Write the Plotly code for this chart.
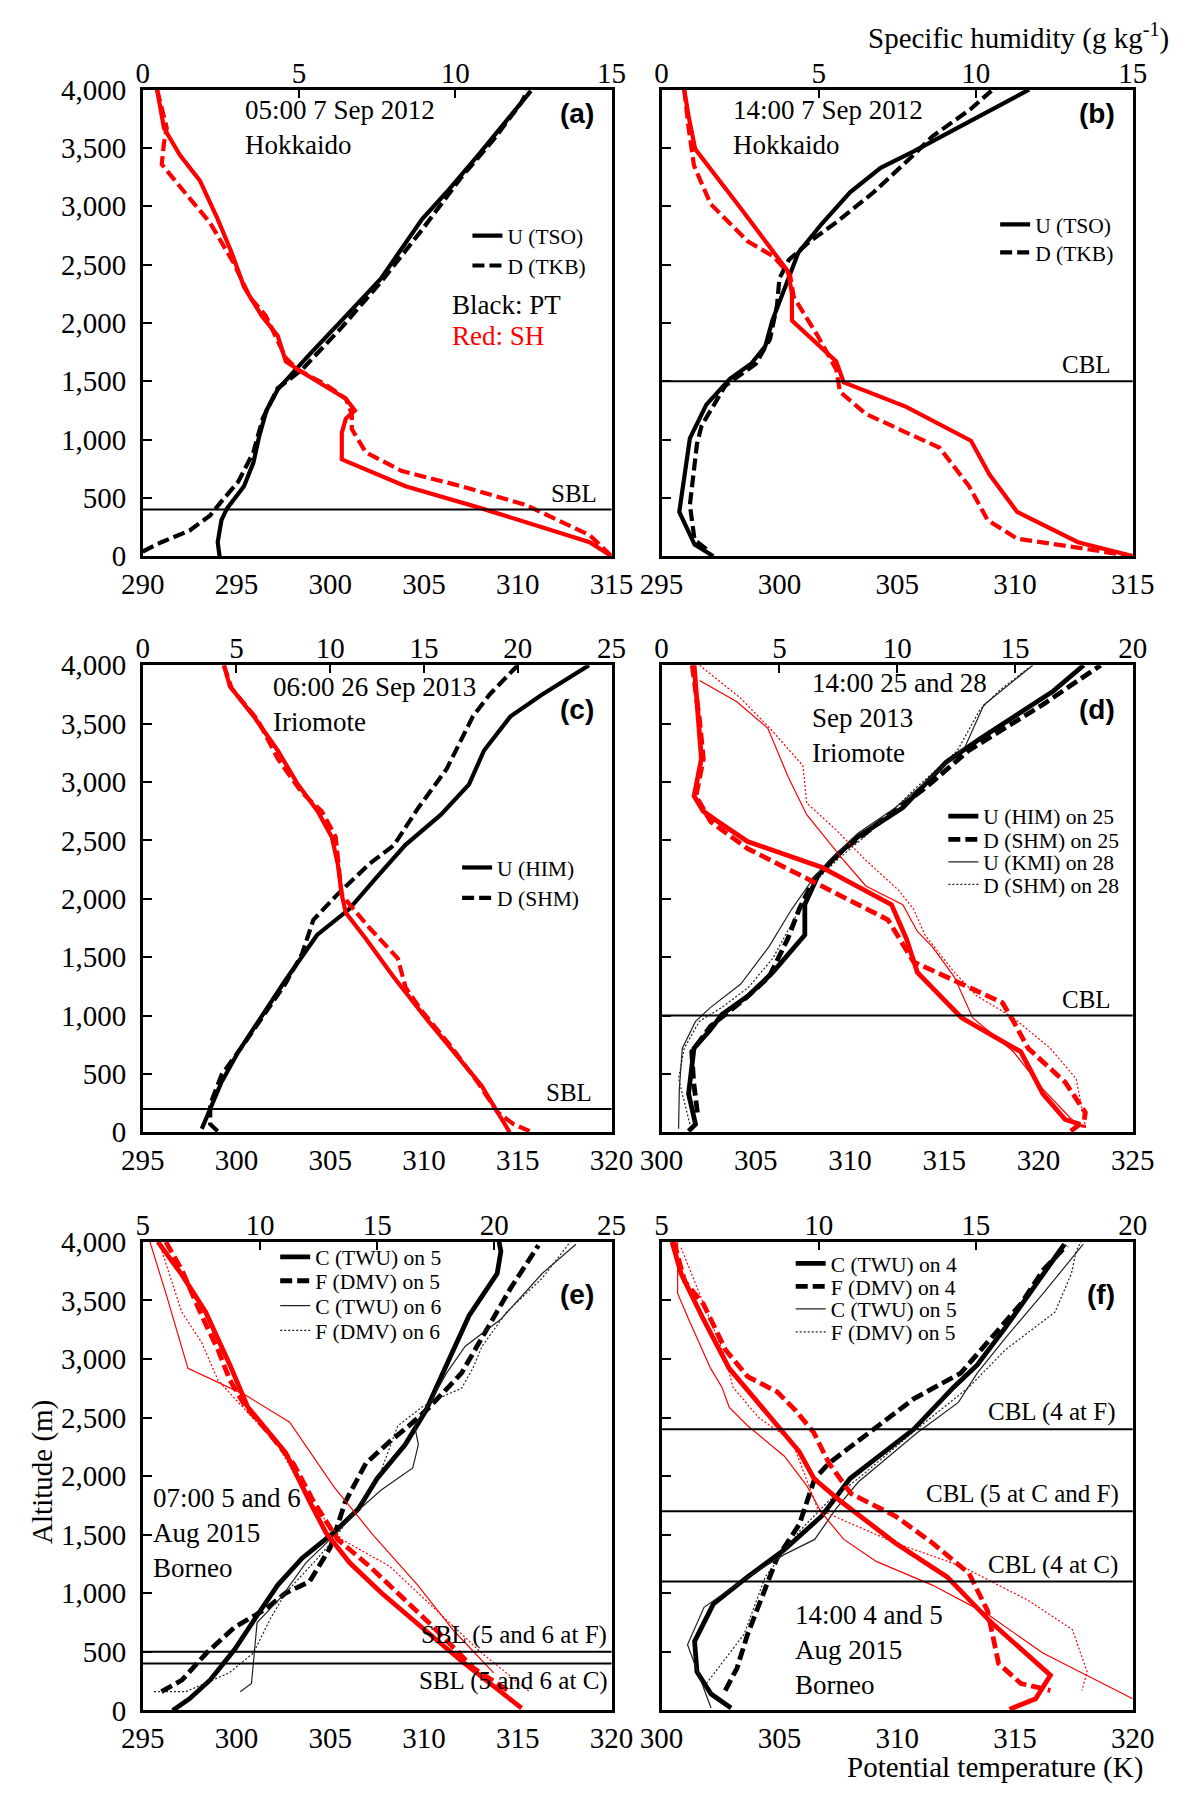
import plotly.graph_objects as go

# ---- (a) 05:00 7 Sep 2012, Hokkaido ----
a_u_pt_z = [0, 120, 310, 410, 600, 800, 1020, 1250, 1430, 1540, 1730, 2020, 2380, 2890, 3120, 3440, 3670, 3990]
a_u_pt = [294.1, 294.0, 294.2, 294.5, 295.4, 295.9, 296.2, 296.6, 297.2, 297.8, 298.9, 300.6, 302.7, 304.9, 306.2, 307.9, 309.1, 310.7]
a_d_pt_z = [40, 120, 220, 350, 470, 640, 890, 1180, 1440, 1600, 1960, 2350, 2800, 3250, 3570, 3890, 3990]
a_d_pt = [290.0, 291.0, 292.5, 293.6, 294.2, 295.1, 295.9, 296.4, 297.2, 298.5, 300.6, 302.7, 304.9, 307.0, 308.7, 310.2, 310.5]
a_u_sh_z = [4000, 3670, 3440, 3220, 2890, 2600, 2310, 2060, 1890, 1670, 1600, 1440, 1350, 1250, 1180, 1060, 830, 600, 410, 120, 0]
a_u_sh = [0.46, 0.68, 1.19, 1.83, 2.40, 2.85, 3.24, 3.81, 4.32, 4.58, 4.96, 5.98, 6.50, 6.79, 6.50, 6.37, 6.37, 8.41, 10.84, 14.30, 15.0]
a_d_sh_z = [4000, 3670, 3540, 3360, 3150, 2860, 2510, 2220, 2060, 1700, 1600, 1470, 1350, 1220, 1090, 890, 730, 600, 440, 180, 0]
a_d_sh = [0.46, 0.77, 0.68, 0.61, 1.25, 2.15, 2.92, 3.43, 3.94, 4.58, 4.96, 5.86, 6.50, 6.69, 6.69, 7.14, 8.29, 10.2, 12.25, 14.3, 15.0]
a_bl = [400]
a_bl_text = ["SBL"]

# ---- (b) 14:00 7 Sep 2012, Hokkaido ----
b_u_pt_z = [0, 100, 380, 1010, 1300, 1520, 1650, 1800, 2020, 2280, 2600, 2850, 3120, 3330, 3470, 3730, 4000]
b_u_pt = [297.2, 296.4, 295.75, 296.2, 296.9, 297.9, 298.8, 299.4, 299.7, 300.2, 300.8, 301.8, 303.0, 304.3, 305.7, 308.1, 310.6]
b_d_pt_z = [60, 140, 440, 960, 1120, 1460, 1650, 1860, 2150, 2380, 2540, 2700, 2860, 3120, 3440, 3600, 3830, 3990]
b_d_pt = [296.9, 296.4, 296.2, 296.5, 296.7, 297.7, 299.0, 299.6, 299.9, 300.0, 300.4, 301.3, 302.4, 304.0, 305.7, 306.5, 308.1, 309.0]
b_u_sh_z = [4000, 3770, 3490, 2990, 2440, 2250, 2020, 1670, 1490, 1280, 990, 700, 380, 120, 0]
b_u_sh = [0.72, 0.86, 1.07, 2.50, 4.03, 4.15, 4.15, 5.56, 5.80, 7.79, 9.85, 10.44, 11.32, 13.26, 15.0]
b_d_sh_z = [4000, 3670, 3350, 3020, 2700, 2570, 2410, 2220, 1890, 1600, 1410, 1220, 930, 600, 310, 150, 70, 0]
b_d_sh = [0.72, 0.86, 1.03, 1.56, 2.74, 3.56, 4.09, 4.21, 4.97, 5.56, 5.68, 6.50, 8.85, 9.79, 10.38, 11.32, 13.32, 15.0]
b_bl = [1500]
b_bl_text = ["CBL"]

# ---- (c) 06:00 26 Sep 2013, Iriomote ----
c_u_pt_z = [30, 170, 430, 690, 1010, 1300, 1690, 1910, 2170, 2460, 2720, 2980, 3270, 3560, 3750, 4000]
c_u_pt = [298.15, 298.5, 299.2, 300.1, 301.4, 302.6, 304.3, 306.0, 307.4, 309.0, 310.9, 312.4, 313.2, 314.6, 316.3, 318.8]
c_d_pt_z = [10, 70, 240, 490, 780, 1040, 1270, 1530, 1820, 2040, 2300, 2460, 2780, 3110, 3560, 3750, 4000]
c_d_pt = [299.0, 298.6, 298.6, 299.2, 300.5, 301.6, 302.6, 303.5, 304.1, 305.4, 307.1, 308.4, 309.7, 311.2, 312.6, 313.5, 315.0]
c_u_sh_z = [4000, 3820, 3560, 3270, 2980, 2750, 2530, 2300, 2040, 1880, 1660, 1330, 980, 690, 400, 170, 0]
c_u_sh = [4.33, 4.65, 5.93, 7.2, 8.27, 9.33, 10.08, 10.4, 10.61, 10.83, 11.89, 13.38, 15.09, 16.58, 18.07, 18.93, 19.57]
c_d_sh_z = [4000, 3800, 3530, 3200, 2910, 2750, 2530, 2240, 2040, 1950, 1750, 1490, 1240, 1040, 750, 430, 170, 70, 10]
c_d_sh = [4.33, 4.75, 6.14, 7.2, 8.48, 9.55, 10.29, 10.51, 10.61, 11.04, 12.1, 13.6, 14.02, 14.88, 16.37, 17.86, 18.93, 19.78, 20.63]
c_bl = [200]
c_bl_text = ["SBL"]

# ---- (d) 14:00 25 and 28 Sep 2013, Iriomote ----
d_u25_pt_z = [10, 70, 330, 720, 880, 1010, 1170, 1370, 1690, 1950, 2200, 2370, 2530, 2780, 3170, 3370, 3780, 4000]
d_u25_pt = [301.43, 301.8, 301.43, 301.72, 302.6, 303.2, 304.6, 305.9, 307.6, 307.6, 308.3, 309.3, 310.4, 312.8, 315.1, 316.9, 320.8, 322.4]
d_d25_pt_z = [170, 430, 690, 910, 1140, 1330, 1660, 1910, 2170, 2400, 2660, 2950, 3270, 3660, 4000]
d_d25_pt = [301.9, 301.7, 301.6, 302.6, 304.4, 305.7, 306.7, 307.3, 308.1, 309.5, 311.6, 314.0, 316.3, 320.2, 323.3]
d_u28_pt_z = [30, 370, 720, 950, 1070, 1270, 1590, 1910, 2140, 2330, 2560, 2780, 3040, 3300, 3660, 3820, 4000]
d_u28_pt = [300.9, 300.94, 301.1, 301.8, 302.6, 304.2, 305.7, 306.9, 307.9, 308.9, 310.4, 312.4, 314.3, 316.1, 317.1, 318.3, 319.7]
d_d28_pt_z = [70, 460, 720, 950, 1070, 1240, 1490, 1850, 2140, 2330, 2590, 2950, 3270, 3620, 3780, 3980]
d_d28_pt = [301.5, 300.9, 301.2, 302.0, 303.2, 304.6, 305.9, 307.1, 308.1, 309.3, 311.2, 313.5, 315.7, 316.9, 317.9, 319.5]
d_u25_sh_z = [4000, 3530, 3200, 2880, 2750, 2660, 2490, 2270, 1950, 1660, 1370, 980, 690, 330, 110, 70, 10]
d_u25_sh = [1.38, 1.54, 1.69, 1.38, 1.77, 2.40, 3.65, 6.79, 9.76, 10.39, 10.86, 12.74, 15.25, 16.19, 17.13, 17.76, 17.37]
d_d25_sh_z = [4000, 3530, 3200, 2880, 2660, 2430, 2110, 1820, 1460, 1300, 1110, 950, 720, 430, 170, 40]
d_d25_sh = [1.3, 1.61, 1.77, 1.46, 2.08, 3.65, 6.79, 9.61, 10.7, 12.43, 14.47, 14.94, 15.56, 17.13, 17.99, 17.9]
d_u28_sh_z = [3870, 3690, 3460, 3040, 2720, 2330, 2110, 1950, 1720, 1590, 1330, 980, 690, 370, 170, 70]
d_u28_sh = [1.61, 3.18, 4.51, 5.38, 6.16, 7.73, 8.67, 10.24, 10.86, 11.49, 12.43, 13.21, 14.94, 16.19, 17.13, 17.6]
d_d28_sh_z = [4000, 3720, 3460, 3140, 2820, 2590, 2330, 2070, 1910, 1690, 1370, 1170, 980, 720, 460, 40]
d_d28_sh = [1.61, 3.34, 4.6, 6.0, 6.16, 7.41, 8.67, 10.08, 10.7, 11.18, 12.43, 13.37, 14.94, 16.5, 17.6, 18.0]
d_bl = [1000]
d_bl_text = ["CBL"]

# ---- (e) 07:00 5 and 6 Aug 2015, Borneo ----
e_c5_pt_z = [0, 100, 260, 520, 810, 1070, 1300, 1520, 1720, 1980, 2270, 2560, 2950, 3370, 3730, 3920, 4000]
e_c5_pt = [296.6, 297.5, 298.6, 299.9, 301.1, 302.2, 303.5, 305.2, 306.5, 307.5, 309.0, 310.1, 311.2, 312.4, 313.9, 314.1, 314.0]
e_f5_pt_z = [160, 260, 490, 710, 870, 1000, 1100, 1390, 1780, 2110, 2300, 2430, 2590, 2880, 3240, 3600, 3970]
e_f5_pt = [296.0, 297.1, 298.4, 299.9, 301.6, 302.6, 303.9, 305.0, 305.8, 306.9, 308.2, 309.2, 310.3, 312.0, 313.3, 314.6, 316.1]
e_c6_pt_z = [160, 230, 750, 970, 1260, 1460, 1680, 1880, 2070, 2270, 2430, 2620, 2880, 3110, 3340, 3730, 3980]
e_c6_pt = [300.2, 300.8, 301.1, 302.4, 303.7, 305.0, 306.3, 307.7, 309.4, 309.7, 309.5, 310.3, 311.2, 312.2, 314.1, 316.3, 318.1]
e_f6_pt_z = [160, 160, 320, 490, 780, 1000, 1260, 1460, 1750, 2040, 2430, 2590, 2660, 2750, 2920, 3110, 3400, 3690, 4000]
e_f6_pt = [295.6, 297.3, 299.6, 300.9, 301.8, 302.6, 304.1, 305.2, 306.5, 307.7, 308.6, 309.9, 310.7, 312.0, 312.6, 313.1, 314.4, 316.3, 317.8]
e_c5_sh_z = [4000, 3720, 3400, 2950, 2590, 2360, 2200, 1780, 1520, 1260, 1000, 710, 420, 20]
e_c5_sh = [5.65, 6.67, 7.69, 8.72, 9.48, 10.42, 11.1, 12.13, 12.81, 13.83, 15.2, 16.9, 18.61, 21.16]
e_f5_sh_z = [4000, 3760, 3370, 3080, 2820, 2590, 2360, 2100, 1780, 1460, 1230, 970, 710, 360, 150]
e_f5_sh = [5.99, 6.67, 7.52, 8.21, 8.72, 9.4, 10.42, 11.45, 12.3, 13.32, 14.68, 16.05, 17.41, 19.12, 20.74]
e_c6_sh_z = [4000, 3560, 2920, 2690, 2460, 1910, 1490, 1070, 680, 320]
e_c6_sh = [5.31, 5.99, 6.93, 9.4, 11.27, 13.15, 14.86, 16.73, 18.27, 19.97]
e_f6_sh_z = [3920, 3400, 3140, 2820, 2560, 2270, 1780, 1460, 1230, 810, 490, 160]
e_f6_sh = [5.82, 6.67, 7.52, 8.21, 9.4, 10.76, 12.13, 13.49, 15.54, 17.75, 19.46, 21.5]
e_bl = [500, 400]
e_bl_text = ["SBL (5 and 6 at F)", "SBL (5 and 6 at C)"]

# ---- (f) 14:00 4 and 5 Aug 2015, Borneo ----
f_c4_pt_z = [20, 140, 330, 590, 910, 1140, 1370, 1660, 1980, 2400, 2760, 2950, 3270, 3730, 3980]
f_c4_pt = [302.95, 302.1, 301.5, 301.4, 302.2, 303.65, 305.2, 306.8, 308.0, 310.7, 312.4, 313.4, 314.6, 316.2, 317.1]
f_f4_pt_z = [170, 360, 650, 980, 1300, 1590, 1980, 2110, 2400, 2660, 2880, 3180, 3470, 3760, 3970]
f_f4_pt = [302.7, 303.2, 303.65, 304.3, 304.9, 305.85, 306.5, 307.1, 309.0, 310.7, 312.7, 314.0, 315.25, 316.2, 317.2]
f_c5_pt_z = [20, 560, 880, 1140, 1330, 1460, 1720, 1950, 2370, 2630, 2880, 3180, 3560, 3980]
f_c5_pt = [302.1, 301.1, 301.8, 303.65, 305.2, 306.5, 307.4, 308.35, 310.85, 312.6, 313.4, 314.6, 316.2, 317.9]
f_f5_pt_z = [230, 650, 1140, 1530, 1790, 1980, 2430, 2760, 3080, 3400, 3730, 3920, 4000]
f_f5_pt = [301.9, 303.5, 304.4, 305.85, 307.1, 308.35, 311.0, 313.05, 314.6, 316.7, 317.4, 317.6, 317.8]
f_c4_sh_z = [4000, 3730, 3340, 2920, 2660, 2400, 2210, 1980, 1790, 1430, 1140, 750, 300, 100, 10]
f_c4_sh = [5.33, 5.62, 6.33, 7.15, 7.97, 8.8, 9.38, 9.85, 10.68, 12.44, 14.09, 15.5, 17.38, 16.91, 16.08]
f_f4_sh_z = [4000, 3660, 3470, 3080, 2850, 2720, 2560, 2370, 2110, 1850, 1660, 1430, 1170, 850, 400, 230, 170]
f_f4_sh = [5.39, 5.74, 6.33, 7.03, 7.74, 8.68, 9.27, 9.85, 10.33, 11.03, 12.44, 13.62, 14.79, 15.38, 15.73, 16.44, 17.38]
f_c5_sh_z = [4000, 3560, 3340, 2920, 2760, 2590, 2430, 2170, 1920, 1690, 1460, 1270, 1070, 820, 490, 100]
f_c5_sh = [5.51, 5.51, 5.86, 6.56, 6.92, 7.15, 7.74, 8.91, 9.62, 10.09, 10.8, 11.85, 13.62, 15.38, 17.14, 20.0]
f_f5_sh_z = [3950, 3560, 3010, 2760, 2500, 2300, 1720, 1430, 1230, 940, 690, 330, 170]
f_f5_sh = [5.62, 6.21, 7.03, 7.27, 8.09, 9.15, 9.97, 12.44, 14.56, 16.67, 18.08, 18.55, 18.38]
f_bl = [2400, 1700, 1100]
f_bl_text = ["CBL (4 at F)", "CBL (5 at C and F)", "CBL (4 at C)"]

SERIF = "Liberation Serif"
RED = "#ff0000"

# стили линий
def style(kind, thick):
    if kind == "solid":
        return dict(width=thick, dash="solid")
    if kind == "dash":
        return dict(width=thick, dash="12px,5px")
    if kind == "thin":
        return dict(width=1.2, dash="solid")
    return dict(width=1.2, dash="2px,2px")

panels = [
    dict(tag="(a)", col=0, row=0, pt=[290, 315], sh=[0, 15], thick=4.2,
         date="05:00 7 Sep 2012<br>Hokkaido", date_x=0.214, date_y=0.918,
         tag_y=0.948, leg_x=0.783, leg_y=[0.687, 0.623], bl_x=[0.974],
         curves=[(a_u_pt, a_u_pt_z, a_u_sh, a_u_sh_z, "solid", "U (TSO)"),
                 (a_d_pt, a_d_pt_z, a_d_sh, a_d_sh_z, "dash", "D (TKB)")],
         bl=a_bl, bl_text=a_bl_text),
    dict(tag="(b)", col=1, row=0, pt=[295, 315], sh=[0, 15], thick=4.2,
         date="14:00 7 Sep 2012<br>Hokkaido", date_x=0.147, date_y=0.918,
         tag_y=0.948, leg_x=0.798, leg_y=[0.711, 0.651], bl_x=[0.958],
         curves=[(b_u_pt, b_u_pt_z, b_u_sh, b_u_sh_z, "solid", "U (TSO)"),
                 (b_d_pt, b_d_pt_z, b_d_sh, b_d_sh_z, "dash", "D (TKB)")],
         bl=b_bl, bl_text=b_bl_text),
    dict(tag="(c)", col=0, row=1, pt=[295, 320], sh=[0, 25], thick=4.2,
         date="06:00 26 Sep 2013<br>Iriomote", date_x=0.273, date_y=0.915,
         tag_y=0.906, leg_x=0.761, leg_y=[0.567, 0.502], bl_x=[0.962],
         curves=[(c_u_pt, c_u_pt_z, c_u_sh, c_u_sh_z, "solid", "U (HIM)"),
                 (c_d_pt, c_d_pt_z, c_d_sh, c_d_sh_z, "dash", "D (SHM)")],
         bl=c_bl, bl_text=c_bl_text),
    dict(tag="(d)", col=1, row=1, pt=[300, 325], sh=[0, 20], thick=4.8,
         date="14:00 25 and 28<br>Sep 2013<br>Iriomote", date_x=0.316, date_y=0.887,
         tag_y=0.906, leg_x=0.688, leg_y=[0.677, 0.627, 0.579, 0.531], bl_x=[0.958],
         curves=[(d_u25_pt, d_u25_pt_z, d_u25_sh, d_u25_sh_z, "solid", "U (HIM) on 25"),
                 (d_d25_pt, d_d25_pt_z, d_d25_sh, d_d25_sh_z, "dash", "D (SHM) on 25"),
                 (d_u28_pt, d_u28_pt_z, d_u28_sh, d_u28_sh_z, "thin", "U (KMI) on 28"),
                 (d_d28_pt, d_d28_pt_z, d_d28_sh, d_d28_sh_z, "dot", "D (SHM) on 28")],
         bl=d_bl, bl_text=d_bl_text),
    dict(tag="(e)", col=0, row=2, pt=[295, 320], sh=[5, 25], thick=4.8,
         date="07:00 5 and 6<br>Aug 2015<br>Borneo", date_x=0.017, date_y=0.378,
         tag_y=0.887, leg_x=0.373, leg_y=[0.968, 0.917, 0.864, 0.811], bl_x=[0.994, 0.996],
         curves=[(e_c5_pt, e_c5_pt_z, e_c5_sh, e_c5_sh_z, "solid", "C (TWU) on 5"),
                 (e_f5_pt, e_f5_pt_z, e_f5_sh, e_f5_sh_z, "dash", "F (DMV) on 5"),
                 (e_c6_pt, e_c6_pt_z, e_c6_sh, e_c6_sh_z, "thin", "C (TWU) on 6"),
                 (e_f6_pt, e_f6_pt_z, e_f6_sh, e_f6_sh_z, "dot", "F (DMV) on 6")],
         bl=e_bl, bl_text=e_bl_text),
    dict(tag="(f)", col=1, row=2, pt=[300, 320], sh=[5, 20], thick=4.8,
         date="14:00 4 and 5<br>Aug 2015<br>Borneo", date_x=0.278, date_y=0.130,
         tag_y=0.887, leg_x=0.364, leg_y=[0.954, 0.905, 0.857, 0.808], bl_x=[0.969, 0.976, 0.974],
         curves=[(f_c4_pt, f_c4_pt_z, f_c4_sh, f_c4_sh_z, "solid", "C (TWU) on 4"),
                 (f_f4_pt, f_f4_pt_z, f_f4_sh, f_f4_sh_z, "dash", "F (DMV) on 4"),
                 (f_c5_pt, f_c5_pt_z, f_c5_sh, f_c5_sh_z, "thin", "C (TWU) on 5"),
                 (f_f5_pt, f_f5_pt_z, f_f5_sh, f_f5_sh_z, "dot", "F (DMV) on 5")],
         bl=f_bl, bl_text=f_bl_text),
]

W, H = 1200, 1802
cols = [(0.1044, 0.510), (0.5533, 0.9608)]
rows = [(0.6948, 0.9584), (0.3693, 0.6332), (0.0427, 0.3074)]
tickfont = dict(family=SERIF, size=29, color="black")

def ref(letter, n):
    return letter if n == 1 else f"{letter}{n}"

def key(letter, n):
    return f"{letter}axis" if n == 1 else f"{letter}axis{n}"

fig = go.Figure()
layout = {}
leg_n = 0

for i, p in enumerate(panels):
    nx_pt, nx_sh, ny = 2 * i + 1, 2 * i + 2, i + 1
    xr_pt, xr_sh, yr = ref("x", nx_pt), ref("x", nx_sh), ref("y", ny)
    dx, dy = cols[p["col"]], rows[p["row"]]

    layout[key("x", nx_pt)] = dict(
        domain=list(dx), anchor=yr, range=p["pt"], dtick=5, ticks="",
        showline=True, linewidth=2.5, linecolor="black", mirror=True,
        showgrid=False, zeroline=False, tickfont=tickfont)
    layout[key("x", nx_sh)] = dict(
        overlaying=xr_pt, anchor=yr, side="top", range=p["sh"], dtick=5,
        ticks="inside", ticklen=8, tickwidth=1.5, tickcolor="black",
        showline=False, showgrid=False, zeroline=False, tickfont=tickfont)
    layout[key("y", ny)] = dict(
        domain=list(dy), anchor=xr_pt, range=[0, 4000], dtick=500,
        tickformat=",", ticks="inside", ticklen=10, tickwidth=1.5,
        tickcolor="black", showline=True, linewidth=2.5, linecolor="black",
        mirror=True, showgrid=False, zeroline=False, tickfont=tickfont,
        showticklabels=(p["col"] == 0), ticklabelstandoff=8)

    for j, (pt, pt_z, sh, sh_z, kind, name) in enumerate(p["curves"]):
        leg_n += 1
        lkey = "legend" if leg_n == 1 else f"legend{leg_n}"
        st = style(kind, p["thick"])
        color_k = "black" if kind in ("solid", "dash") else "#222222"
        fig.add_trace(go.Scatter(
            x=pt, y=pt_z, xaxis=xr_pt, yaxis=yr, mode="lines", name=name,
            line=dict(color=color_k, **st), legend=lkey, showlegend=True))
        fig.add_trace(go.Scatter(
            x=sh, y=sh_z, xaxis=xr_sh, yaxis=yr, mode="lines",
            line=dict(color=RED, **st), showlegend=False))
        lx = dx[0] + p["leg_x"] * (dx[1] - dx[0]) - 44 / W
        ly = dy[0] + p["leg_y"][j] * (dy[1] - dy[0])
        layout[lkey] = dict(x=lx, y=ly, xanchor="left", yanchor="middle",
                            bgcolor="rgba(0,0,0,0)", borderwidth=0,
                            font=dict(family=SERIF, size=21.5, color="black"))

    # пограничный слой
    for k, (z, txt) in enumerate(zip(p["bl"], p["bl_text"])):
        fig.add_shape(type="line", xref=xr_pt + " domain", x0=0, x1=1,
                      yref=yr, y0=z, y1=z, line=dict(color="black", width=2))
        below = txt == "SBL (5 and 6 at C)"
        fig.add_annotation(xref=xr_pt + " domain", yref=yr, x=p["bl_x"][k], y=z,
                           text=txt, showarrow=False, xanchor="right",
                           yanchor="top" if below else "bottom",
                           yshift=-1 if below else 1,
                           font=dict(family=SERIF, size=25, color="black"))

    fig.add_annotation(xref=xr_pt + " domain", yref=yr + " domain",
                       x=p["date_x"], y=p["date_y"], text=p["date"],
                       showarrow=False, xanchor="left", yanchor="middle",
                       align="left", font=dict(family=SERIF, size=27, color="black"))
    fig.add_annotation(xref=xr_pt + " domain", yref=yr + " domain",
                       x=0.966, y=p["tag_y"], text="<b>" + p["tag"] + "</b>",
                       showarrow=False, xanchor="right", yanchor="middle",
                       font=dict(family="Liberation Sans", size=28, color="black"))

# подпись Black/Red в (a)
fig.add_annotation(xref="x domain", yref="y domain", x=0.655, y=0.538,
                   text="Black: PT", showarrow=False, xanchor="left",
                   font=dict(family=SERIF, size=27, color="black"))
fig.add_annotation(xref="x domain", yref="y domain", x=0.655, y=0.473,
                   text="Red: SH", showarrow=False, xanchor="left",
                   font=dict(family=SERIF, size=27, color=RED))

# общие подписи осей
fig.add_annotation(xref="paper", yref="paper", x=1193 / W, y=1,
                   text="Specific humidity (g kg<sup>-1</sup>)", showarrow=False,
                   xanchor="right", yanchor="top",
                   font=dict(family=SERIF, size=29, color="black"))
fig.add_annotation(xref="paper", yref="paper", x=1166 / W, y=0,
                   text="Potential temperature (K)", showarrow=False,
                   xanchor="right", yanchor="bottom",
                   font=dict(family=SERIF, size=29, color="black"))
fig.add_annotation(xref="paper", yref="paper", x=21 / W, y=1 - 1482 / H,
                   text="Altitude (m)", showarrow=False, textangle=-90,
                   xanchor="center", yanchor="middle",
                   font=dict(family=SERIF, size=29, color="black"))

fig.update_layout(width=W, height=H, margin=dict(l=0, r=0, t=0, b=0, pad=0),
                  plot_bgcolor="white", paper_bgcolor="white", **layout)

fig.write_html("out.html", config={"displayModeBar": False},
               post_script="document.body.style.margin='0';")
